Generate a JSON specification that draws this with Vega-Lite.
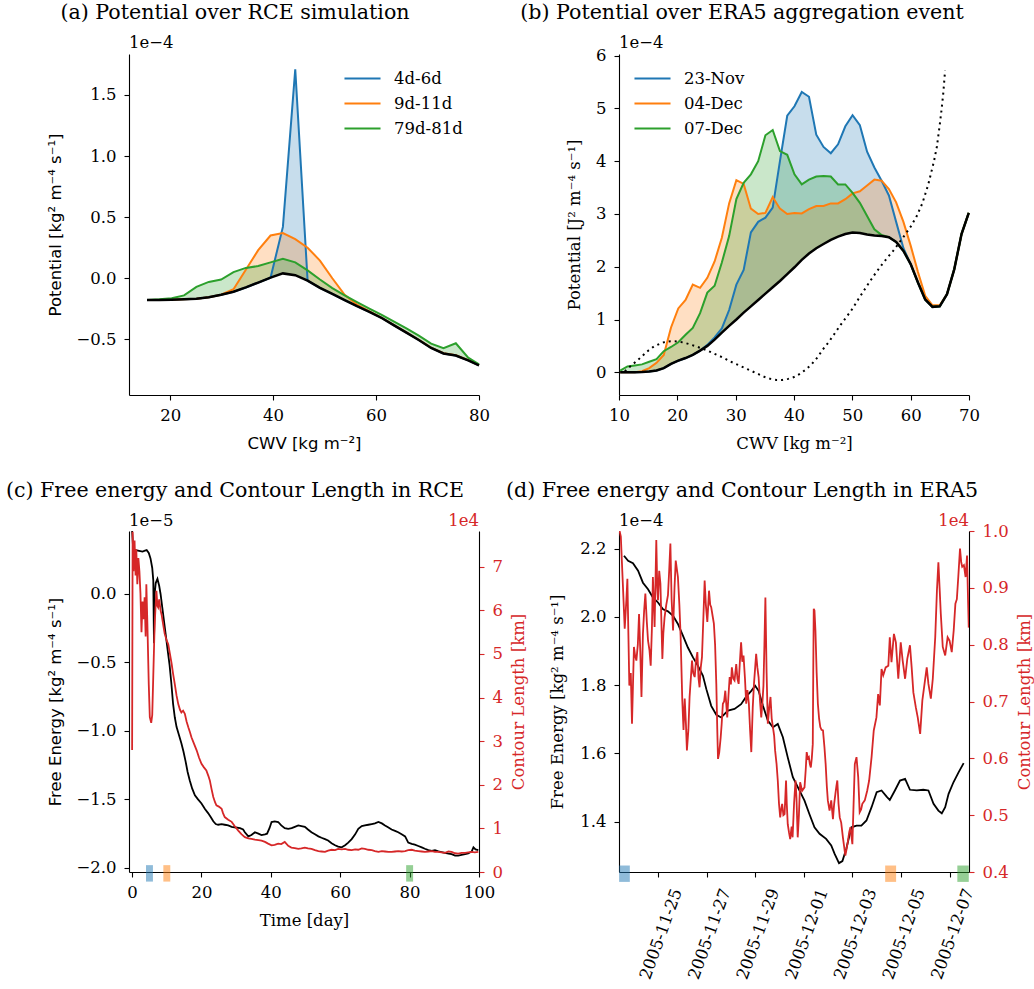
{
"$schema": "https://vega.github.io/schema/vega-lite/v6.json",
"background": "white",
"padding": {"left": 5, "top": 3, "right": 5, "bottom": 5},
"config": {
 "view": {"stroke": null},
 "font": "DejaVu Serif",
 "axis": {"grid": false, "domainColor": "#000000", "domainWidth": 1.1, "tickColor": "#000000", "tickWidth": 1.1, "tickSize": 5, "labelFont": "DejaVu Serif", "labelFontSize": 16.5, "labelColor": "#000000", "labelPadding": 7, "titleFont": "DejaVu Serif", "titleFontSize": 16.5, "titleFontWeight": "normal", "titleColor": "#000000", "titlePadding": 12, "labelFlush": false, "labelOverlap": false},
 "axisY": {"labelPadding": 8},
 "title": {"font": "DejaVu Serif", "fontSize": 20.6, "fontWeight": "normal", "color": "#000000", "anchor": "middle", "offset": 11},
 "legend": {"labelFont": "DejaVu Serif", "labelFontSize": 16.5, "labelColor": "#000000"}
},
"datasets": {
 "rce_potential": [
  {"cwv":15.5,"baseline":-0.178,"4d-6d":-0.178,"9d-11d":-0.178,"79d-81d":-0.178},
  {"cwv":17.9,"baseline":-0.177,"4d-6d":-0.177,"9d-11d":-0.177,"79d-81d":-0.172},
  {"cwv":20.3,"baseline":-0.175,"4d-6d":-0.175,"9d-11d":-0.175,"79d-81d":-0.163},
  {"cwv":22.7,"baseline":-0.172,"4d-6d":-0.172,"9d-11d":-0.172,"79d-81d":-0.14},
  {"cwv":25.1,"baseline":-0.167,"4d-6d":-0.167,"9d-11d":-0.167,"79d-81d":-0.07},
  {"cwv":27.5,"baseline":-0.155,"4d-6d":-0.155,"9d-11d":-0.155,"79d-81d":-0.03},
  {"cwv":29.9,"baseline":-0.135,"4d-6d":-0.135,"9d-11d":-0.135,"79d-81d":-0.01},
  {"cwv":32.3,"baseline":-0.11,"4d-6d":-0.11,"9d-11d":-0.09,"79d-81d":0.05},
  {"cwv":34.7,"baseline":-0.075,"4d-6d":-0.075,"9d-11d":0.07,"79d-81d":0.085},
  {"cwv":37.1,"baseline":-0.035,"4d-6d":-0.035,"9d-11d":0.23,"79d-81d":0.1},
  {"cwv":39.5,"baseline":0.005,"4d-6d":0.005,"9d-11d":0.35,"79d-81d":0.13},
  {"cwv":41.9,"baseline":0.04,"4d-6d":0.42,"9d-11d":0.37,"79d-81d":0.16},
  {"cwv":44.3,"baseline":0.025,"4d-6d":1.71,"9d-11d":0.32,"79d-81d":0.13},
  {"cwv":46.7,"baseline":-0.02,"4d-6d":-0.02,"9d-11d":0.25,"79d-81d":0.065},
  {"cwv":49.1,"baseline":-0.078,"4d-6d":-0.078,"9d-11d":0.145,"79d-81d":-0.01},
  {"cwv":51.5,"baseline":-0.128,"4d-6d":-0.128,"9d-11d":0.0,"79d-81d":-0.08},
  {"cwv":53.9,"baseline":-0.178,"4d-6d":-0.178,"9d-11d":-0.135,"79d-81d":-0.14},
  {"cwv":56.3,"baseline":-0.228,"4d-6d":-0.228,"9d-11d":-0.215,"79d-81d":-0.195},
  {"cwv":58.7,"baseline":-0.275,"4d-6d":-0.275,"9d-11d":-0.27,"79d-81d":-0.248},
  {"cwv":61.1,"baseline":-0.325,"4d-6d":-0.325,"9d-11d":-0.323,"79d-81d":-0.3},
  {"cwv":63.5,"baseline":-0.385,"4d-6d":-0.385,"9d-11d":-0.383,"79d-81d":-0.355},
  {"cwv":65.9,"baseline":-0.445,"4d-6d":-0.445,"9d-11d":-0.443,"79d-81d":-0.41},
  {"cwv":68.3,"baseline":-0.505,"4d-6d":-0.505,"9d-11d":-0.503,"79d-81d":-0.47},
  {"cwv":70.7,"baseline":-0.57,"4d-6d":-0.57,"9d-11d":-0.568,"79d-81d":-0.535},
  {"cwv":73.1,"baseline":-0.615,"4d-6d":-0.615,"9d-11d":-0.613,"79d-81d":-0.572},
  {"cwv":75.5,"baseline":-0.632,"4d-6d":-0.632,"9d-11d":-0.63,"79d-81d":-0.532},
  {"cwv":77.9,"baseline":-0.672,"4d-6d":-0.672,"9d-11d":-0.67,"79d-81d":-0.65},
  {"cwv":80.0,"baseline":-0.712,"4d-6d":-0.712,"9d-11d":-0.71,"79d-81d":-0.705}
 ],
 "era5_potential": [
  {"cwv":10.2,"baseline":0.0,"23-Nov":0.0,"04-Dec":0.0,"07-Dec":0.03},
  {"cwv":11.45,"baseline":0.0,"23-Nov":0.0,"04-Dec":0.0,"07-Dec":0.11},
  {"cwv":12.69,"baseline":0.0,"23-Nov":0.0,"04-Dec":0.0,"07-Dec":0.13},
  {"cwv":13.94,"baseline":0.005,"23-Nov":0.005,"04-Dec":0.02,"07-Dec":0.15},
  {"cwv":15.18,"baseline":0.015,"23-Nov":0.015,"04-Dec":0.08,"07-Dec":0.2},
  {"cwv":16.43,"baseline":0.035,"23-Nov":0.035,"04-Dec":0.18,"07-Dec":0.25},
  {"cwv":17.67,"baseline":0.08,"23-Nov":0.08,"04-Dec":0.33,"07-Dec":0.4},
  {"cwv":18.92,"baseline":0.16,"23-Nov":0.16,"04-Dec":0.85,"07-Dec":0.48},
  {"cwv":20.16,"baseline":0.22,"23-Nov":0.22,"04-Dec":1.21,"07-Dec":0.57},
  {"cwv":21.41,"baseline":0.27,"23-Nov":0.27,"04-Dec":1.37,"07-Dec":0.71},
  {"cwv":22.65,"baseline":0.33,"23-Nov":0.33,"04-Dec":1.66,"07-Dec":0.84},
  {"cwv":23.9,"baseline":0.41,"23-Nov":0.41,"04-Dec":1.6,"07-Dec":1.12},
  {"cwv":25.14,"baseline":0.5,"23-Nov":0.52,"04-Dec":1.79,"07-Dec":1.51},
  {"cwv":26.39,"baseline":0.62,"23-Nov":0.66,"04-Dec":2.1,"07-Dec":1.64},
  {"cwv":27.63,"baseline":0.75,"23-Nov":0.83,"04-Dec":2.55,"07-Dec":2.08},
  {"cwv":28.88,"baseline":0.88,"23-Nov":1.18,"04-Dec":3.2,"07-Dec":2.58},
  {"cwv":30.12,"baseline":1.0,"23-Nov":1.66,"04-Dec":3.64,"07-Dec":3.28},
  {"cwv":31.37,"baseline":1.13,"23-Nov":1.94,"04-Dec":3.57,"07-Dec":3.59},
  {"cwv":32.61,"baseline":1.25,"23-Nov":2.65,"04-Dec":3.1,"07-Dec":3.75},
  {"cwv":33.86,"baseline":1.37,"23-Nov":2.85,"04-Dec":3.0,"07-Dec":4.0},
  {"cwv":35.1,"baseline":1.49,"23-Nov":2.93,"04-Dec":3.02,"07-Dec":4.49},
  {"cwv":36.35,"baseline":1.61,"23-Nov":3.12,"04-Dec":3.32,"07-Dec":4.59},
  {"cwv":37.59,"baseline":1.73,"23-Nov":4.0,"04-Dec":3.1,"07-Dec":4.19},
  {"cwv":38.84,"baseline":1.86,"23-Nov":4.86,"04-Dec":3.0,"07-Dec":4.12},
  {"cwv":40.08,"baseline":1.99,"23-Nov":5.04,"04-Dec":3.02,"07-Dec":3.75},
  {"cwv":41.33,"baseline":2.13,"23-Nov":5.31,"04-Dec":3.01,"07-Dec":3.56},
  {"cwv":42.57,"baseline":2.25,"23-Nov":5.22,"04-Dec":3.09,"07-Dec":3.65},
  {"cwv":43.82,"baseline":2.35,"23-Nov":4.5,"04-Dec":3.15,"07-Dec":3.71},
  {"cwv":45.06,"baseline":2.43,"23-Nov":4.27,"04-Dec":3.15,"07-Dec":3.72},
  {"cwv":46.31,"baseline":2.51,"23-Nov":4.15,"04-Dec":3.2,"07-Dec":3.71},
  {"cwv":47.55,"baseline":2.57,"23-Nov":4.32,"04-Dec":3.2,"07-Dec":3.56},
  {"cwv":48.8,"baseline":2.62,"23-Nov":4.66,"04-Dec":3.28,"07-Dec":3.56},
  {"cwv":50.04,"baseline":2.65,"23-Nov":4.87,"04-Dec":3.39,"07-Dec":3.4},
  {"cwv":51.29,"baseline":2.64,"23-Nov":4.68,"04-Dec":3.43,"07-Dec":3.21},
  {"cwv":52.53,"baseline":2.61,"23-Nov":4.18,"04-Dec":3.54,"07-Dec":2.96},
  {"cwv":53.78,"baseline":2.59,"23-Nov":3.88,"04-Dec":3.65,"07-Dec":2.71},
  {"cwv":55.02,"baseline":2.58,"23-Nov":3.63,"04-Dec":3.63,"07-Dec":2.6},
  {"cwv":56.27,"baseline":2.56,"23-Nov":3.35,"04-Dec":3.47,"07-Dec":2.56},
  {"cwv":57.51,"baseline":2.47,"23-Nov":2.85,"04-Dec":3.22,"07-Dec":2.47},
  {"cwv":58.76,"baseline":2.3,"23-Nov":2.35,"04-Dec":2.85,"07-Dec":2.3},
  {"cwv":60.0,"baseline":2.05,"23-Nov":2.05,"04-Dec":2.4,"07-Dec":2.05},
  {"cwv":61.25,"baseline":1.7,"23-Nov":1.7,"04-Dec":1.9,"07-Dec":1.7},
  {"cwv":62.49,"baseline":1.38,"23-Nov":1.38,"04-Dec":1.45,"07-Dec":1.38},
  {"cwv":63.74,"baseline":1.24,"23-Nov":1.24,"04-Dec":1.27,"07-Dec":1.24},
  {"cwv":64.98,"baseline":1.25,"23-Nov":1.25,"04-Dec":1.27,"07-Dec":1.25},
  {"cwv":66.23,"baseline":1.48,"23-Nov":1.48,"04-Dec":1.48,"07-Dec":1.48},
  {"cwv":67.47,"baseline":1.95,"23-Nov":1.95,"04-Dec":1.95,"07-Dec":1.95},
  {"cwv":68.72,"baseline":2.62,"23-Nov":2.62,"04-Dec":2.62,"07-Dec":2.62},
  {"cwv":69.96,"baseline":3.02,"23-Nov":3.02,"04-Dec":3.02,"07-Dec":3.02}
 ],
 "era5_dotted": [
  {"cwv":11,"value":0.02},{"cwv":12,"value":0.12},{"cwv":13,"value":0.21},{"cwv":14,"value":0.31},{"cwv":15,"value":0.41},{"cwv":16,"value":0.49},{"cwv":17,"value":0.54},{"cwv":18,"value":0.58},{"cwv":19,"value":0.59},{"cwv":20,"value":0.585},{"cwv":21,"value":0.565},{"cwv":22,"value":0.535},{"cwv":23,"value":0.5},{"cwv":24,"value":0.46},{"cwv":25,"value":0.42},{"cwv":26,"value":0.37},{"cwv":27,"value":0.32},{"cwv":28,"value":0.27},{"cwv":29,"value":0.21},{"cwv":30,"value":0.16},{"cwv":31,"value":0.11},{"cwv":32,"value":0.06},{"cwv":33,"value":0.01},{"cwv":34,"value":-0.04},{"cwv":35,"value":-0.09},{"cwv":36,"value":-0.125},{"cwv":37,"value":-0.145},{"cwv":38,"value":-0.145},{"cwv":39,"value":-0.125},{"cwv":40,"value":-0.09},{"cwv":41,"value":-0.03},{"cwv":42,"value":0.05},{"cwv":43,"value":0.15},{"cwv":44,"value":0.28},{"cwv":45,"value":0.44},{"cwv":46,"value":0.58},{"cwv":47,"value":0.74},{"cwv":48,"value":0.9},{"cwv":49,"value":1.05},{"cwv":50,"value":1.2},{"cwv":51,"value":1.38},{"cwv":52,"value":1.55},{"cwv":53,"value":1.72},{"cwv":54,"value":1.88},{"cwv":55,"value":2.03},{"cwv":56,"value":2.17},{"cwv":57,"value":2.3},{"cwv":58,"value":2.45},{"cwv":59,"value":2.6},{"cwv":60,"value":2.76},{"cwv":61,"value":2.95},{"cwv":62,"value":3.2},{"cwv":63,"value":3.55},{"cwv":64,"value":4.0},{"cwv":64.5,"value":4.28},{"cwv":65,"value":4.7},{"cwv":65.3,"value":4.98},{"cwv":65.6,"value":5.3},{"cwv":65.9,"value":5.72}
 ],
 "rce_free_energy": [
  {"day":0,"free_energy":0.46},{"day":0.3,"free_energy":0.33},{"day":1,"free_energy":0.32},{"day":2,"free_energy":0.315},{"day":3,"free_energy":0.31},{"day":3.7,"free_energy":0.316},{"day":4.2,"free_energy":0.32},{"day":4.8,"free_energy":0.3},{"day":5.3,"free_energy":0.26},{"day":5.8,"free_energy":0.19},{"day":6.1,"free_energy":0.1},{"day":6.3,"free_energy":-0.36},{"day":6.5,"free_energy":0.0},{"day":6.8,"free_energy":0.08},{"day":7.3,"free_energy":0.11},{"day":7.8,"free_energy":0.06},{"day":8.2,"free_energy":0.0},{"day":8.7,"free_energy":-0.1},{"day":9.2,"free_energy":-0.2},{"day":9.7,"free_energy":-0.3},{"day":10.2,"free_energy":-0.4},{"day":10.8,"free_energy":-0.52},{"day":11.3,"free_energy":-0.65},{"day":11.8,"free_energy":-0.8},{"day":12.3,"free_energy":-0.9},{"day":12.8,"free_energy":-0.97},{"day":13.5,"free_energy":-1.03},{"day":14.2,"free_energy":-1.09},{"day":14.8,"free_energy":-1.15},{"day":15.4,"free_energy":-1.22},{"day":16.0,"free_energy":-1.3},{"day":16.6,"free_energy":-1.36},{"day":17.3,"free_energy":-1.42},{"day":18.1,"free_energy":-1.47},{"day":19.0,"free_energy":-1.5},{"day":20.0,"free_energy":-1.53},{"day":21.0,"free_energy":-1.57},{"day":21.9,"free_energy":-1.6},{"day":22.7,"free_energy":-1.63},{"day":23.4,"free_energy":-1.66},{"day":24.1,"free_energy":-1.68},{"day":24.8,"free_energy":-1.685},{"day":25.8,"free_energy":-1.68},{"day":26.7,"free_energy":-1.685},{"day":27.7,"free_energy":-1.69},{"day":28.7,"free_energy":-1.7},{"day":29.9,"free_energy":-1.705},{"day":31.1,"free_energy":-1.71},{"day":32.0,"free_energy":-1.72},{"day":32.5,"free_energy":-1.74},{"day":33.5,"free_energy":-1.77},{"day":34.4,"free_energy":-1.76},{"day":35.4,"free_energy":-1.74},{"day":36.4,"free_energy":-1.75},{"day":37.3,"free_energy":-1.76},{"day":38.3,"free_energy":-1.755},{"day":38.9,"free_energy":-1.75},{"day":39.6,"free_energy":-1.71},{"day":40.2,"free_energy":-1.665},{"day":41.1,"free_energy":-1.66},{"day":42.1,"free_energy":-1.665},{"day":43.0,"free_energy":-1.69},{"day":44.0,"free_energy":-1.71},{"day":45.0,"free_energy":-1.715},{"day":46.0,"free_energy":-1.71},{"day":46.9,"free_energy":-1.7},{"day":47.9,"free_energy":-1.69},{"day":48.8,"free_energy":-1.695},{"day":49.8,"free_energy":-1.7},{"day":50.7,"free_energy":-1.72},{"day":51.7,"free_energy":-1.74},{"day":52.7,"free_energy":-1.755},{"day":53.7,"free_energy":-1.77},{"day":54.6,"free_energy":-1.78},{"day":55.6,"free_energy":-1.79},{"day":56.5,"free_energy":-1.8},{"day":57.5,"free_energy":-1.82},{"day":58.5,"free_energy":-1.835},{"day":59.4,"free_energy":-1.845},{"day":60.4,"free_energy":-1.85},{"day":61.4,"free_energy":-1.835},{"day":62.3,"free_energy":-1.815},{"day":63.3,"free_energy":-1.79},{"day":64.3,"free_energy":-1.755},{"day":65.2,"free_energy":-1.715},{"day":66.2,"free_energy":-1.695},{"day":67.1,"free_energy":-1.69},{"day":68.1,"free_energy":-1.685},{"day":69.1,"free_energy":-1.68},{"day":70.0,"free_energy":-1.675},{"day":71.0,"free_energy":-1.665},{"day":72.0,"free_energy":-1.675},{"day":72.9,"free_energy":-1.69},{"day":73.9,"free_energy":-1.705},{"day":74.8,"free_energy":-1.72},{"day":75.8,"free_energy":-1.73},{"day":76.7,"free_energy":-1.74},{"day":77.7,"free_energy":-1.755},{"day":78.7,"free_energy":-1.77},{"day":79.6,"free_energy":-1.815},{"day":80.6,"free_energy":-1.825},{"day":81.5,"free_energy":-1.83},{"day":82.5,"free_energy":-1.84},{"day":83.5,"free_energy":-1.85},{"day":84.4,"free_energy":-1.86},{"day":85.4,"free_energy":-1.87},{"day":86.4,"free_energy":-1.875},{"day":87.3,"free_energy":-1.87},{"day":88.3,"free_energy":-1.88},{"day":89.2,"free_energy":-1.885},{"day":90.2,"free_energy":-1.89},{"day":91.2,"free_energy":-1.895},{"day":92.1,"free_energy":-1.9},{"day":93.1,"free_energy":-1.91},{"day":94.0,"free_energy":-1.91},{"day":95.0,"free_energy":-1.905},{"day":96.0,"free_energy":-1.9},{"day":96.9,"free_energy":-1.895},{"day":97.9,"free_energy":-1.88},{"day":98.4,"free_energy":-1.85},{"day":99.0,"free_energy":-1.865},{"day":99.8,"free_energy":-1.87}
 ],
 "rce_contour_length": [
  {"day":0.0,"contour_length":2.8},{"day":0.15,"contour_length":7.8},{"day":0.4,"contour_length":6.9},{"day":0.7,"contour_length":7.6},{"day":1.0,"contour_length":6.8},{"day":1.2,"contour_length":7.4},{"day":1.5,"contour_length":6.6},{"day":1.8,"contour_length":7.2},{"day":2.1,"contour_length":6.9},{"day":2.4,"contour_length":6.4},{"day":2.7,"contour_length":5.5},{"day":3.0,"contour_length":6.2},{"day":3.3,"contour_length":5.8},{"day":3.6,"contour_length":6.3},{"day":3.9,"contour_length":5.4},{"day":4.1,"contour_length":6.6},{"day":4.4,"contour_length":5.7},{"day":4.8,"contour_length":4.3},{"day":5.1,"contour_length":3.55},{"day":5.5,"contour_length":3.42},{"day":5.8,"contour_length":3.6},{"day":6.1,"contour_length":4.5},{"day":6.4,"contour_length":5.4},{"day":6.6,"contour_length":5.84},{"day":7.0,"contour_length":6.45},{"day":7.3,"contour_length":6.1},{"day":7.5,"contour_length":6.07},{"day":7.8,"contour_length":6.25},{"day":8.2,"contour_length":6.0},{"day":8.5,"contour_length":5.9},{"day":9.0,"contour_length":5.65},{"day":9.4,"contour_length":5.46},{"day":10.0,"contour_length":5.3},{"day":10.4,"contour_length":5.23},{"day":10.9,"contour_length":5.0},{"day":11.4,"contour_length":4.77},{"day":11.8,"contour_length":4.55},{"day":12.3,"contour_length":4.31},{"day":12.8,"contour_length":4.05},{"day":13.3,"contour_length":3.85},{"day":13.8,"contour_length":3.72},{"day":14.2,"contour_length":3.66},{"day":14.7,"contour_length":3.7},{"day":15.2,"contour_length":3.63},{"day":15.7,"contour_length":3.45},{"day":16.2,"contour_length":3.32},{"day":16.7,"contour_length":3.2},{"day":17.1,"contour_length":3.09},{"day":17.8,"contour_length":2.95},{"day":18.6,"contour_length":2.79},{"day":19.3,"contour_length":2.62},{"day":20.0,"contour_length":2.48},{"day":20.7,"contour_length":2.4},{"day":21.4,"contour_length":2.33},{"day":22.0,"contour_length":2.2},{"day":22.4,"contour_length":2.1},{"day":22.9,"contour_length":1.9},{"day":23.4,"contour_length":1.72},{"day":23.9,"contour_length":1.6},{"day":24.3,"contour_length":1.53},{"day":25.0,"contour_length":1.5},{"day":25.8,"contour_length":1.45},{"day":26.2,"contour_length":1.35},{"day":26.7,"contour_length":1.26},{"day":27.7,"contour_length":1.2},{"day":28.7,"contour_length":1.15},{"day":29.6,"contour_length":1.05},{"day":30.6,"contour_length":0.95},{"day":31.5,"contour_length":0.87},{"day":32.5,"contour_length":0.8},{"day":33.5,"contour_length":0.77},{"day":34.4,"contour_length":0.76},{"day":35.4,"contour_length":0.74},{"day":36.4,"contour_length":0.73},{"day":37.3,"contour_length":0.72},{"day":38.3,"contour_length":0.69},{"day":39.2,"contour_length":0.65},{"day":40.2,"contour_length":0.61},{"day":41.1,"contour_length":0.62},{"day":42.1,"contour_length":0.65},{"day":43.0,"contour_length":0.64},{"day":44.0,"contour_length":0.69},{"day":45.0,"contour_length":0.6},{"day":45.9,"contour_length":0.56},{"day":46.9,"contour_length":0.55},{"day":47.9,"contour_length":0.53},{"day":48.8,"contour_length":0.54},{"day":49.8,"contour_length":0.56},{"day":50.7,"contour_length":0.54},{"day":51.7,"contour_length":0.53},{"day":52.7,"contour_length":0.5},{"day":53.7,"contour_length":0.48},{"day":54.6,"contour_length":0.47},{"day":55.6,"contour_length":0.46},{"day":56.5,"contour_length":0.49},{"day":57.5,"contour_length":0.51},{"day":58.5,"contour_length":0.5},{"day":59.4,"contour_length":0.53},{"day":60.4,"contour_length":0.52},{"day":61.4,"contour_length":0.53},{"day":62.3,"contour_length":0.51},{"day":63.3,"contour_length":0.5},{"day":64.3,"contour_length":0.52},{"day":65.2,"contour_length":0.51},{"day":66.2,"contour_length":0.54},{"day":67.1,"contour_length":0.53},{"day":68.1,"contour_length":0.51},{"day":69.1,"contour_length":0.5},{"day":70.0,"contour_length":0.48},{"day":71.0,"contour_length":0.46},{"day":72.0,"contour_length":0.48},{"day":72.9,"contour_length":0.47},{"day":73.9,"contour_length":0.46},{"day":74.8,"contour_length":0.46},{"day":75.8,"contour_length":0.47},{"day":76.7,"contour_length":0.48},{"day":77.7,"contour_length":0.47},{"day":78.7,"contour_length":0.48},{"day":79.6,"contour_length":0.5},{"day":80.6,"contour_length":0.51},{"day":81.5,"contour_length":0.49},{"day":82.5,"contour_length":0.48},{"day":83.5,"contour_length":0.47},{"day":84.4,"contour_length":0.46},{"day":85.4,"contour_length":0.47},{"day":86.4,"contour_length":0.48},{"day":87.3,"contour_length":0.46},{"day":88.3,"contour_length":0.46},{"day":89.2,"contour_length":0.45},{"day":90.2,"contour_length":0.44},{"day":91.2,"contour_length":0.47},{"day":92.1,"contour_length":0.46},{"day":93.1,"contour_length":0.43},{"day":94.0,"contour_length":0.42},{"day":95.0,"contour_length":0.44},{"day":96.0,"contour_length":0.44},{"day":96.9,"contour_length":0.45},{"day":97.9,"contour_length":0.46},{"day":98.8,"contour_length":0.45},{"day":99.8,"contour_length":0.46}
 ],
 "rce_windows": [
  {"window":"4d-6d","start":4,"end":6},{"window":"9d-11d","start":9,"end":11},{"window":"79d-81d","start":79,"end":81}
 ],
 "era5_free_energy": [
  {"day":0.6,"free_energy":2.179},{"day":0.77,"free_energy":2.164},{"day":0.97,"free_energy":2.157},{"day":1.18,"free_energy":2.135},{"day":1.38,"free_energy":2.1},{"day":1.59,"free_energy":2.081},{"day":1.79,"free_energy":2.057},{"day":2.0,"free_energy":2.042},{"day":2.21,"free_energy":2.022},{"day":2.41,"free_energy":2.016},{"day":2.62,"free_energy":2.003},{"day":2.82,"free_energy":1.979},{"day":3.03,"free_energy":1.944},{"day":3.23,"free_energy":1.91},{"day":3.44,"free_energy":1.881},{"day":3.64,"free_energy":1.857},{"day":3.85,"free_energy":1.827},{"day":3.99,"free_energy":1.788},{"day":4.19,"free_energy":1.739},{"day":4.4,"free_energy":1.713},{"day":4.6,"free_energy":1.705},{"day":4.88,"free_energy":1.725},{"day":5.15,"free_energy":1.73},{"day":5.42,"free_energy":1.744},{"day":5.63,"free_energy":1.766},{"day":5.84,"free_energy":1.783},{"day":6.0,"free_energy":1.798},{"day":6.14,"free_energy":1.783},{"day":6.32,"free_energy":1.739},{"day":6.52,"free_energy":1.696},{"day":6.73,"free_energy":1.676},{"day":6.93,"free_energy":1.686},{"day":7.14,"free_energy":1.647},{"day":7.34,"free_energy":1.588},{"day":7.55,"free_energy":1.53},{"day":7.82,"free_energy":1.491},{"day":8.03,"free_energy":1.461},{"day":8.23,"free_energy":1.422},{"day":8.44,"free_energy":1.383},{"day":8.65,"free_energy":1.364},{"day":8.92,"free_energy":1.349},{"day":9.13,"free_energy":1.33},{"day":9.27,"free_energy":1.305},{"day":9.45,"free_energy":1.278},{"day":9.59,"free_energy":1.284},{"day":9.75,"free_energy":1.32},{"day":9.96,"free_energy":1.383},{"day":10.17,"free_energy":1.388},{"day":10.37,"free_energy":1.388},{"day":10.58,"free_energy":1.403},{"day":10.79,"free_energy":1.442},{"day":11.0,"free_energy":1.486},{"day":11.2,"free_energy":1.491},{"day":11.41,"free_energy":1.473},{"day":11.54,"free_energy":1.463},{"day":11.75,"free_energy":1.491},{"day":11.96,"free_energy":1.52},{"day":12.17,"free_energy":1.525},{"day":12.37,"free_energy":1.493},{"day":12.65,"free_energy":1.491},{"day":12.92,"free_energy":1.493},{"day":13.13,"free_energy":1.491},{"day":13.34,"free_energy":1.452},{"day":13.54,"free_energy":1.432},{"day":13.68,"free_energy":1.424},{"day":13.82,"free_energy":1.442},{"day":13.96,"free_energy":1.481},{"day":14.16,"free_energy":1.515},{"day":14.37,"free_energy":1.544},{"day":14.58,"free_energy":1.571}
 ],
 "era5_contour_length": [
  {"day":0.42,"contour_length":1.0},{"day":0.47,"contour_length":0.99},{"day":0.55,"contour_length":0.91},{"day":0.63,"contour_length":0.828},{"day":0.7,"contour_length":0.88},{"day":0.74,"contour_length":0.916},{"day":0.82,"contour_length":0.728},{"day":0.88,"contour_length":0.75},{"day":0.93,"contour_length":0.661},{"day":1.01,"contour_length":0.796},{"day":1.06,"contour_length":0.78},{"day":1.11,"contour_length":0.772},{"day":1.17,"contour_length":0.8},{"day":1.22,"contour_length":0.854},{"day":1.27,"contour_length":0.79},{"day":1.32,"contour_length":0.708},{"day":1.38,"contour_length":0.819},{"day":1.43,"contour_length":0.86},{"day":1.48,"contour_length":0.89},{"day":1.54,"contour_length":0.84},{"day":1.59,"contour_length":0.807},{"day":1.65,"contour_length":0.79},{"day":1.7,"contour_length":0.763},{"day":1.75,"contour_length":0.83},{"day":1.79,"contour_length":0.919},{"day":1.86,"contour_length":0.831},{"day":1.93,"contour_length":0.984},{"day":1.97,"contour_length":0.9},{"day":2.0,"contour_length":0.878},{"day":2.05,"contour_length":0.93},{"day":2.1,"contour_length":0.907},{"day":2.18,"contour_length":0.775},{"day":2.22,"contour_length":0.82},{"day":2.27,"contour_length":0.848},{"day":2.34,"contour_length":0.87},{"day":2.41,"contour_length":0.887},{"day":2.46,"contour_length":0.93},{"day":2.51,"contour_length":0.978},{"day":2.56,"contour_length":0.88},{"day":2.62,"contour_length":0.825},{"day":2.68,"contour_length":0.9},{"day":2.73,"contour_length":0.948},{"day":2.82,"contour_length":0.919},{"day":2.88,"contour_length":0.87},{"day":2.93,"contour_length":0.816},{"day":3.0,"contour_length":0.702},{"day":3.05,"contour_length":0.65},{"day":3.1,"contour_length":0.705},{"day":3.15,"contour_length":0.66},{"day":3.19,"contour_length":0.614},{"day":3.25,"contour_length":0.65},{"day":3.3,"contour_length":0.708},{"day":3.4,"contour_length":0.772},{"day":3.45,"contour_length":0.75},{"day":3.51,"contour_length":0.743},{"day":3.56,"contour_length":0.77},{"day":3.62,"contour_length":0.787},{"day":3.67,"contour_length":0.74},{"day":3.71,"contour_length":0.725},{"day":3.76,"contour_length":0.76},{"day":3.81,"contour_length":0.778},{"day":3.87,"contour_length":0.85},{"day":3.92,"contour_length":0.913},{"day":3.97,"contour_length":0.87},{"day":4.03,"contour_length":0.84},{"day":4.1,"contour_length":0.895},{"day":4.15,"contour_length":0.87},{"day":4.19,"contour_length":0.866},{"day":4.25,"contour_length":0.85},{"day":4.3,"contour_length":0.837},{"day":4.35,"contour_length":0.8},{"day":4.4,"contour_length":0.731},{"day":4.44,"contour_length":0.65},{"day":4.47,"contour_length":0.599},{"day":4.52,"contour_length":0.61},{"day":4.58,"contour_length":0.637},{"day":4.62,"contour_length":0.66},{"day":4.67,"contour_length":0.696},{"day":4.72,"contour_length":0.7},{"day":4.77,"contour_length":0.719},{"day":4.85,"contour_length":0.672},{"day":4.9,"contour_length":0.71},{"day":4.95,"contour_length":0.743},{"day":5.0,"contour_length":0.73},{"day":5.04,"contour_length":0.76},{"day":5.1,"contour_length":0.74},{"day":5.15,"contour_length":0.737},{"day":5.22,"contour_length":0.766},{"day":5.27,"contour_length":0.74},{"day":5.32,"contour_length":0.731},{"day":5.37,"contour_length":0.77},{"day":5.42,"contour_length":0.804},{"day":5.47,"contour_length":0.77},{"day":5.52,"contour_length":0.781},{"day":5.58,"contour_length":0.74},{"day":5.63,"contour_length":0.696},{"day":5.68,"contour_length":0.72},{"day":5.74,"contour_length":0.696},{"day":5.79,"contour_length":0.65},{"day":5.84,"contour_length":0.611},{"day":5.9,"contour_length":0.69},{"day":5.95,"contour_length":0.731},{"day":6.0,"contour_length":0.76},{"day":6.04,"contour_length":0.784},{"day":6.09,"contour_length":0.76},{"day":6.14,"contour_length":0.743},{"day":6.2,"contour_length":0.7},{"day":6.25,"contour_length":0.672},{"day":6.3,"contour_length":0.7},{"day":6.34,"contour_length":0.728},{"day":6.38,"contour_length":0.8},{"day":6.42,"contour_length":0.883},{"day":6.47,"contour_length":0.75},{"day":6.52,"contour_length":0.661},{"day":6.58,"contour_length":0.69},{"day":6.63,"contour_length":0.708},{"day":6.68,"contour_length":0.67},{"day":6.73,"contour_length":0.655},{"day":6.78,"contour_length":0.64},{"day":6.82,"contour_length":0.614},{"day":6.88,"contour_length":0.59},{"day":6.93,"contour_length":0.561},{"day":6.98,"contour_length":0.52},{"day":7.03,"contour_length":0.496},{"day":7.07,"contour_length":0.51},{"day":7.11,"contour_length":0.52},{"day":7.16,"contour_length":0.5},{"day":7.21,"contour_length":0.502},{"day":7.27,"contour_length":0.561},{"day":7.3,"contour_length":0.52},{"day":7.34,"contour_length":0.484},{"day":7.39,"contour_length":0.47},{"day":7.44,"contour_length":0.458},{"day":7.5,"contour_length":0.48},{"day":7.54,"contour_length":0.461},{"day":7.6,"contour_length":0.52},{"day":7.66,"contour_length":0.561},{"day":7.7,"contour_length":0.53},{"day":7.75,"contour_length":0.461},{"day":7.8,"contour_length":0.5},{"day":7.85,"contour_length":0.558},{"day":7.93,"contour_length":0.543},{"day":8.03,"contour_length":0.549},{"day":8.08,"contour_length":0.58},{"day":8.12,"contour_length":0.611},{"day":8.17,"contour_length":0.6},{"day":8.21,"contour_length":0.602},{"day":8.25,"contour_length":0.59},{"day":8.29,"contour_length":0.584},{"day":8.33,"contour_length":0.6},{"day":8.37,"contour_length":0.625},{"day":8.39,"contour_length":0.75},{"day":8.41,"contour_length":0.863},{"day":8.44,"contour_length":0.86},{"day":8.48,"contour_length":0.825},{"day":8.53,"contour_length":0.75},{"day":8.58,"contour_length":0.696},{"day":8.63,"contour_length":0.67},{"day":8.68,"contour_length":0.655},{"day":8.73,"contour_length":0.65},{"day":8.79,"contour_length":0.649},{"day":8.85,"contour_length":0.62},{"day":8.9,"contour_length":0.59},{"day":8.95,"contour_length":0.55},{"day":8.99,"contour_length":0.526},{"day":9.06,"contour_length":0.508},{"day":9.13,"contour_length":0.526},{"day":9.2,"contour_length":0.493},{"day":9.25,"contour_length":0.52},{"day":9.3,"contour_length":0.537},{"day":9.34,"contour_length":0.55},{"day":9.38,"contour_length":0.561},{"day":9.43,"contour_length":0.52},{"day":9.48,"contour_length":0.496},{"day":9.54,"contour_length":0.487},{"day":9.61,"contour_length":0.461},{"day":9.66,"contour_length":0.445},{"day":9.71,"contour_length":0.429},{"day":9.76,"contour_length":0.44},{"day":9.82,"contour_length":0.455},{"day":9.87,"contour_length":0.47},{"day":9.92,"contour_length":0.479},{"day":9.97,"contour_length":0.46},{"day":10.0,"contour_length":0.449},{"day":10.05,"contour_length":0.52},{"day":10.1,"contour_length":0.59},{"day":10.17,"contour_length":0.602},{"day":10.24,"contour_length":0.567},{"day":10.3,"contour_length":0.505},{"day":10.36,"contour_length":0.51},{"day":10.41,"contour_length":0.52},{"day":10.51,"contour_length":0.526},{"day":10.61,"contour_length":0.543},{"day":10.69,"contour_length":0.561},{"day":10.79,"contour_length":0.602},{"day":10.88,"contour_length":0.649},{"day":10.99,"contour_length":0.672},{"day":11.06,"contour_length":0.713},{"day":11.13,"contour_length":0.693},{"day":11.2,"contour_length":0.757},{"day":11.27,"contour_length":0.746},{"day":11.37,"contour_length":0.76},{"day":11.48,"contour_length":0.763},{"day":11.54,"contour_length":0.813},{"day":11.61,"contour_length":0.769},{"day":11.71,"contour_length":0.819},{"day":11.79,"contour_length":0.804},{"day":11.89,"contour_length":0.74},{"day":11.99,"contour_length":0.804},{"day":12.07,"contour_length":0.772},{"day":12.17,"contour_length":0.74},{"day":12.26,"contour_length":0.775},{"day":12.37,"contour_length":0.799},{"day":12.44,"contour_length":0.76},{"day":12.51,"contour_length":0.716},{"day":12.61,"contour_length":0.69},{"day":12.69,"contour_length":0.672},{"day":12.79,"contour_length":0.643},{"day":12.88,"contour_length":0.702},{"day":12.97,"contour_length":0.731},{"day":13.06,"contour_length":0.76},{"day":13.13,"contour_length":0.731},{"day":13.23,"contour_length":0.705},{"day":13.31,"contour_length":0.74},{"day":13.41,"contour_length":0.813},{"day":13.48,"contour_length":0.895},{"day":13.54,"contour_length":0.945},{"day":13.59,"contour_length":0.9},{"day":13.64,"contour_length":0.854},{"day":13.72,"contour_length":0.796},{"day":13.82,"contour_length":0.781},{"day":13.92,"contour_length":0.813},{"day":14.0,"contour_length":0.807},{"day":14.09,"contour_length":0.787},{"day":14.17,"contour_length":0.825},{"day":14.24,"contour_length":0.872},{"day":14.3,"contour_length":0.88},{"day":14.36,"contour_length":0.92},{"day":14.43,"contour_length":0.969},{"day":14.48,"contour_length":0.945},{"day":14.52,"contour_length":0.937},{"day":14.59,"contour_length":0.94},{"day":14.66,"contour_length":0.919},{"day":14.72,"contour_length":0.957},{"day":14.76,"contour_length":0.88},{"day":14.79,"contour_length":0.83}
 ],
 "era5_windows": [
  {"window":"23-Nov","start":0.4,"end":0.84},{"window":"04-Dec","start":11.35,"end":11.8},{"window":"07-Dec","start":14.32,"end":14.79}
 ]
},
"bounds": "flush",
"columns": 2,
"spacing": {"row": 136, "column": 140},
"resolve": {"scale": {"color": "independent", "fill": "independent"}, "legend": {"color": "independent", "fill": "independent"}},
"concat": [
  {"width": 350, "height": 341,
   "title": {"text": "(a) Potential over RCE simulation", "dx": -69},
   "layer": [
    {"data": {"name": "rce_potential"},
     "transform": [{"fold": ["4d-6d", "9d-11d", "79d-81d"], "as": ["period", "potential"]}],
     "mark": {"type": "area", "opacity": 0.25},
     "encoding": {
      "x": {"field": "cwv", "type": "quantitative", "scale": {"domain": [12, 80], "nice": false, "zero": false}, "axis": {"values": [20, 40, 60, 80], "title": "CWV [kg m⁻²]", "titleFont": "DejaVu Sans"}},
      "y": {"field": "potential", "type": "quantitative", "stack": null, "scale": {"domain": [-0.955, 1.835], "nice": false, "zero": false}, "axis": {"values": [-0.5, 0, 0.5, 1, 1.5], "labelExpr": "replace(format(datum.value, '.1f'), '-', '−')", "title": "Potential [kg² m⁻⁴ s⁻¹]", "titleFont": "DejaVu Sans", "titlePadding": 12}},
      "y2": {"field": "baseline"},
      "fill": {"field": "period", "type": "nominal", "scale": {"domain": ["79d-81d", "9d-11d", "4d-6d"], "range": ["#2ca02c", "#ff7f0e", "#1f77b4"]}, "legend": null}
     }},
    {"data": {"name": "rce_potential"},
     "transform": [{"fold": ["4d-6d", "9d-11d", "79d-81d"], "as": ["period", "potential"]}],
     "mark": {"type": "line", "strokeWidth": 2},
     "encoding": {
      "x": {"field": "cwv", "type": "quantitative"},
      "y": {"field": "potential", "type": "quantitative"},
      "color": {"field": "period", "type": "nominal", "scale": {"domain": ["4d-6d", "9d-11d", "79d-81d"], "range": ["#1f77b4", "#ff7f0e", "#2ca02c"]},
       "legend": {"orient": "none", "legendX": 214, "legendY": 12, "title": null, "symbolType": "stroke", "symbolSize": 1300, "symbolStrokeWidth": 2, "labelOffset": 12, "clipHeight": 25, "rowPadding": 0}}
     }},
    {"data": {"name": "rce_potential"},
     "mark": {"type": "line", "color": "black", "strokeWidth": 2.5},
     "encoding": {"x": {"field": "cwv", "type": "quantitative"}, "y": {"field": "baseline", "type": "quantitative"}}},
    {"data": {"values": [{}]},
     "mark": {"type": "text", "text": "1e−4", "align": "left", "baseline": "alphabetic", "dy": -6, "font": "DejaVu Serif", "fontSize": 16.5, "color": "black"},
     "encoding": {"x": {"datum": 12}, "y": {"datum": 1.835}}}
   ]},
  {"width": 350, "height": 341,
   "title": {"text": "(b) Potential over ERA5 aggregation event", "dx": -52},
   "layer": [
    {"data": {"name": "era5_potential"},
     "transform": [{"fold": ["23-Nov", "04-Dec", "07-Dec"], "as": ["date", "potential"]}],
     "mark": {"type": "area", "opacity": 0.25},
     "encoding": {
      "x": {"field": "cwv", "type": "quantitative", "scale": {"domain": [10, 70], "nice": false, "zero": false}, "axis": {"values": [10, 20, 30, 40, 50, 60, 70], "title": "CWV [kg m⁻²]"}},
      "y": {"field": "potential", "type": "quantitative", "stack": null, "scale": {"domain": [-0.43, 6.03], "nice": false, "zero": false}, "axis": {"values": [0, 1, 2, 3, 4, 5, 6], "format": "d", "title": "Potential [J² m⁻⁴ s⁻¹]", "titlePadding": 13}},
      "y2": {"field": "baseline"},
      "fill": {"field": "date", "type": "nominal", "scale": {"domain": ["07-Dec", "04-Dec", "23-Nov"], "range": ["#2ca02c", "#ff7f0e", "#1f77b4"]}, "legend": null}
     }},
    {"data": {"name": "era5_potential"},
     "transform": [{"fold": ["23-Nov", "04-Dec", "07-Dec"], "as": ["date", "potential"]}],
     "mark": {"type": "line", "strokeWidth": 2},
     "encoding": {
      "x": {"field": "cwv", "type": "quantitative"},
      "y": {"field": "potential", "type": "quantitative"},
      "color": {"field": "date", "type": "nominal", "scale": {"domain": ["23-Nov", "04-Dec", "07-Dec"], "range": ["#1f77b4", "#ff7f0e", "#2ca02c"]},
       "legend": {"orient": "none", "legendX": 14, "legendY": 12, "title": null, "symbolType": "stroke", "symbolSize": 1300, "symbolStrokeWidth": 2, "labelOffset": 12, "clipHeight": 25, "rowPadding": 0}}
     }},
    {"data": {"name": "era5_potential"},
     "mark": {"type": "line", "color": "black", "strokeWidth": 2.5},
     "encoding": {"x": {"field": "cwv", "type": "quantitative"}, "y": {"field": "baseline", "type": "quantitative"}}},
    {"data": {"name": "era5_dotted"},
     "mark": {"type": "line", "color": "black", "strokeWidth": 2, "strokeDash": [2, 4]},
     "encoding": {"x": {"field": "cwv", "type": "quantitative"}, "y": {"field": "value", "type": "quantitative"}}},
    {"data": {"values": [{}]},
     "mark": {"type": "text", "text": "1e−4", "align": "left", "baseline": "alphabetic", "dy": -6, "font": "DejaVu Serif", "fontSize": 16.5, "color": "black"},
     "encoding": {"x": {"datum": 10}, "y": {"datum": 6.03}}}
   ]},
  {"width": 350, "height": 341,
   "title": {"text": "(c) Free energy and Contour Length in RCE", "dx": -69},
   "layer": [
    {"layer": [
     {"data": {"name": "rce_free_energy"},
      "mark": {"type": "line", "color": "black", "strokeWidth": 1.8, "clip": true},
      "encoding": {
       "x": {"field": "day", "type": "quantitative", "scale": {"domain": [-0.9, 100], "nice": false, "zero": false}, "axis": {"values": [0, 20, 40, 60, 80, 100], "title": "Time [day]"}},
       "y": {"field": "free_energy", "type": "quantitative", "scale": {"domain": [-2.03, 0.46], "nice": false, "zero": false}, "axis": {"values": [-2, -1.5, -1, -0.5, 0], "labelExpr": "replace(format(datum.value, '.1f'), '-', '−')", "title": "Free Energy [kg² m⁻⁴ s⁻¹]", "titleFont": "DejaVu Sans", "titlePadding": 12}}
      }},
     {"data": {"name": "rce_windows"},
      "mark": {"type": "rect", "opacity": 0.5},
      "encoding": {
       "x": {"field": "start", "type": "quantitative"}, "x2": {"field": "end"},
       "y": {"datum": -1.98}, "y2": {"datum": -2.1},
       "color": {"field": "window", "type": "nominal", "scale": {"domain": ["4d-6d", "9d-11d", "79d-81d"], "range": ["#1f77b4", "#ff7f0e", "#2ca02c"]}, "legend": null}
      }},
     {"data": {"values": [{}]},
      "mark": {"type": "text", "text": "1e−5", "align": "left", "baseline": "alphabetic", "dy": -5, "font": "DejaVu Serif", "fontSize": 16.5, "color": "black"},
      "encoding": {"x": {"datum": -0.9}, "y": {"datum": 0.46}}}
    ]},
    {"layer": [
     {"data": {"name": "rce_contour_length"},
      "mark": {"type": "line", "color": "#d62728", "strokeWidth": 1.8, "clip": true},
      "encoding": {
       "x": {"field": "day", "type": "quantitative"},
       "y": {"field": "contour_length", "type": "quantitative", "scale": {"domain": [0, 7.82], "nice": false, "zero": false}, "axis": {"orient": "right", "values": [0, 1, 2, 3, 4, 5, 6, 7], "format": "d", "title": "Contour Length [km]", "labelColor": "#d62728", "tickColor": "#d62728", "titleColor": "#d62728", "titleAngle": 270, "titleBaseline": "top", "titlePadding": 8}}
      }},
     {"data": {"values": [{}]},
      "mark": {"type": "text", "text": "1e4", "align": "right", "baseline": "alphabetic", "dy": -5, "font": "DejaVu Serif", "fontSize": 16.5, "color": "#d62728"},
      "encoding": {"x": {"datum": 100}, "y": {"datum": 7.82}}}
    ]}
   ],
   "resolve": {"scale": {"y": "independent"}}},
  {"width": 350, "height": 341,
   "title": {"text": "(d) Free energy and Contour Length in ERA5", "dx": -52},
   "layer": [
    {"layer": [
     {"data": {"name": "era5_free_energy"},
      "mark": {"type": "line", "color": "black", "strokeWidth": 1.8, "clip": true},
      "encoding": {
       "x": {"field": "day", "type": "quantitative", "scale": {"domain": [0.395, 14.8], "nice": false, "zero": false}, "axis": {"values": [2, 4, 6, 8, 10, 12, 14], "labelExpr": "timeFormat(datetime(2005, 10, 23 + datum.value), '%Y-%m-%d')", "labelAngle": -70, "labelAlign": "right", "labelBaseline": "middle", "labelOffset": 19, "labelPadding": 12, "title": null}},
       "y": {"field": "free_energy", "type": "quantitative", "scale": {"domain": [1.252, 2.2515], "nice": false, "zero": false}, "axis": {"values": [1.4, 1.6, 1.8, 2.0, 2.2], "format": ".1f", "title": "Free Energy [kg² m⁻⁴ s⁻¹]", "titlePadding": 14}}
      }},
     {"data": {"name": "era5_windows"},
      "mark": {"type": "rect", "opacity": 0.5},
      "encoding": {
       "x": {"field": "start", "type": "quantitative"}, "x2": {"field": "end"},
       "y": {"datum": 1.271}, "y2": {"datum": 1.223},
       "color": {"field": "window", "type": "nominal", "scale": {"domain": ["23-Nov", "04-Dec", "07-Dec"], "range": ["#1f77b4", "#ff7f0e", "#2ca02c"]}, "legend": null}
      }},
     {"data": {"values": [{}]},
      "mark": {"type": "text", "text": "1e−4", "align": "left", "baseline": "alphabetic", "dy": -5, "font": "DejaVu Serif", "fontSize": 16.5, "color": "black"},
      "encoding": {"x": {"datum": 0.395}, "y": {"datum": 2.2515}}}
    ]},
    {"layer": [
     {"data": {"name": "era5_contour_length"},
      "mark": {"type": "line", "color": "#d62728", "strokeWidth": 1.8, "clip": true},
      "encoding": {
       "x": {"field": "day", "type": "quantitative"},
       "y": {"field": "contour_length", "type": "quantitative", "scale": {"domain": [0.4, 1.0], "nice": false, "zero": false}, "axis": {"orient": "right", "values": [0.4, 0.5, 0.6, 0.7, 0.8, 0.9, 1.0], "format": ".1f", "title": "Contour Length [km]", "labelColor": "#d62728", "tickColor": "#d62728", "titleColor": "#d62728", "titleAngle": 270, "titleBaseline": "top", "titlePadding": 8}}
      }},
     {"data": {"values": [{}]},
      "mark": {"type": "text", "text": "1e4", "align": "right", "baseline": "alphabetic", "dy": -5, "font": "DejaVu Serif", "fontSize": 16.5, "color": "#d62728"},
      "encoding": {"x": {"datum": 14.8}, "y": {"datum": 1.0}}}
    ]}
   ],
   "resolve": {"scale": {"y": "independent"}}}
]
}
